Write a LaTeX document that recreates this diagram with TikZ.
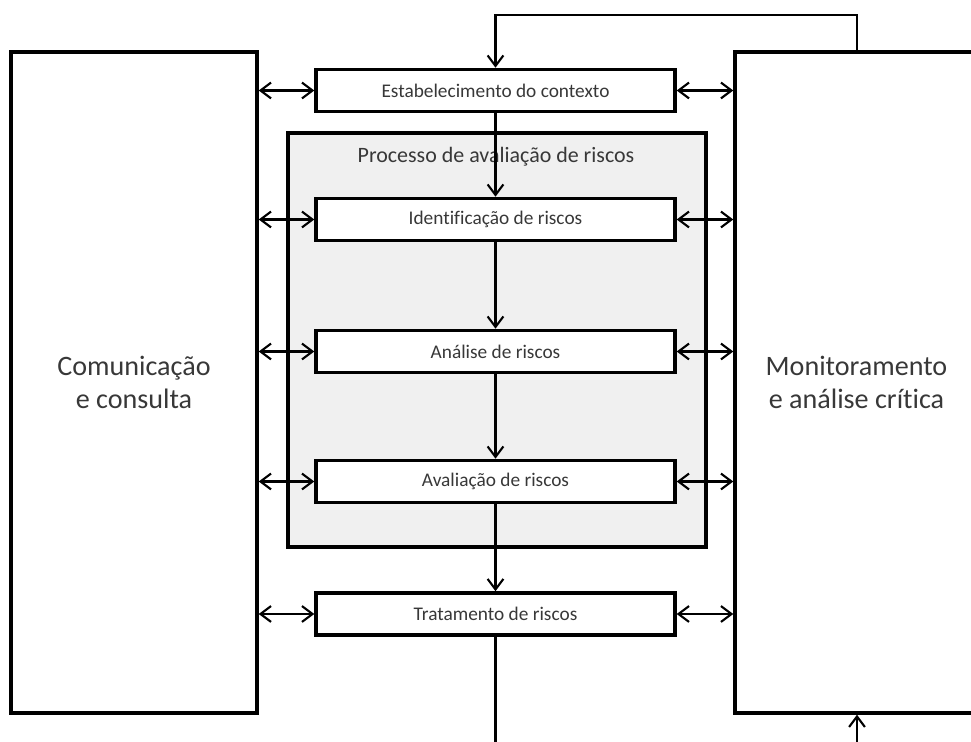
\documentclass[tikz,border=0pt]{standalone}
\usepackage{fontspec}
\setmainfont{Carlito}[Ligatures=NoCommon]
\usetikzlibrary{arrows.meta}

\tikzset{
  etapa/.style={draw, line width=2pt, fill=white, minimum width=7.18cm,
    minimum height=0.84cm, inner sep=0pt, text=black!78,
    font=\fontsize{11}{13}\selectfont},
  lado/.style={draw, line width=2pt, minimum height=13.22cm, align=center,
    text=black!78, font=\fontsize{16}{18.7}\selectfont},
  seta/.style={line width=1.2pt, -{Straight Barb[length=6pt,width=9pt]}},
  seta2/.style={line width=1.2pt,
    {Straight Barb[length=6pt,width=9pt]}-{Straight Barb[length=6pt,width=9pt]}},
}

\begin{document}
\begin{tikzpicture}[x=0.02cm, y=-0.02cm]
        \useasboundingbox (0,0) rectangle (971,742);
        % lateral blocks
        \node[lado, minimum width=4.92cm] (comunic) at (134,382.5) {Comunicação\\e consulta};
        \node[lado, minimum width=4.86cm] (monit) at (856.5,382.5) {Monitoramento\\e análise crítica};
        % risk assessment frame
        \node[draw, line width=2pt, fill=gray!12, minimum width=8.36cm,
          minimum height=8.28cm] (processo) at (497,340) {};
        \node[anchor=base, text=black!78, font=\fontsize{12.5}{15}\selectfont]
          (titulo) at (496,163) {Processo de avaliação de riscos};
        % steps
        \node[etapa] (contexto) at (495.5,90.5) {Estabelecimento do contexto};
        \node[etapa] (identif) at (495.5,219.5) {Identificação de riscos};
        \node[etapa] (analise) at (495.5,351.5) {Análise de riscos};
        \node[etapa] (avaliac) at (495.5,481.5) {Avaliação de riscos};
        \node[etapa] (tratam) at (495.5,614) {Tratamento de riscos};
        \coordinate (topo) at (857,15);
        \coordinate (baixo) at (495.5,742);
        \coordinate (entrada) at (857,742);
        % main flow
        \draw[seta] (monit.north -| topo) -- (topo) -| (contexto.north);
        \draw[seta] (contexto) -- (identif);
        \draw[seta] (identif) -- (analise);
        \draw[seta] (analise) -- (avaliac);
        \draw[seta] (avaliac) -- (tratam);
        \draw[line width=1.2pt] (tratam.south) -- (baixo);
        \draw[seta] (entrada) -- (monit.south -| entrada);
        % links to the lateral blocks
        \foreach \n in {contexto,identif,analise,avaliac,tratam}{
          \draw[seta2] (\n.west -| comunic.east) -- (\n.west);
          \draw[seta2] (\n.east) -- (\n.east -| monit.west);
        }
    \end{tikzpicture}
\end{document}
